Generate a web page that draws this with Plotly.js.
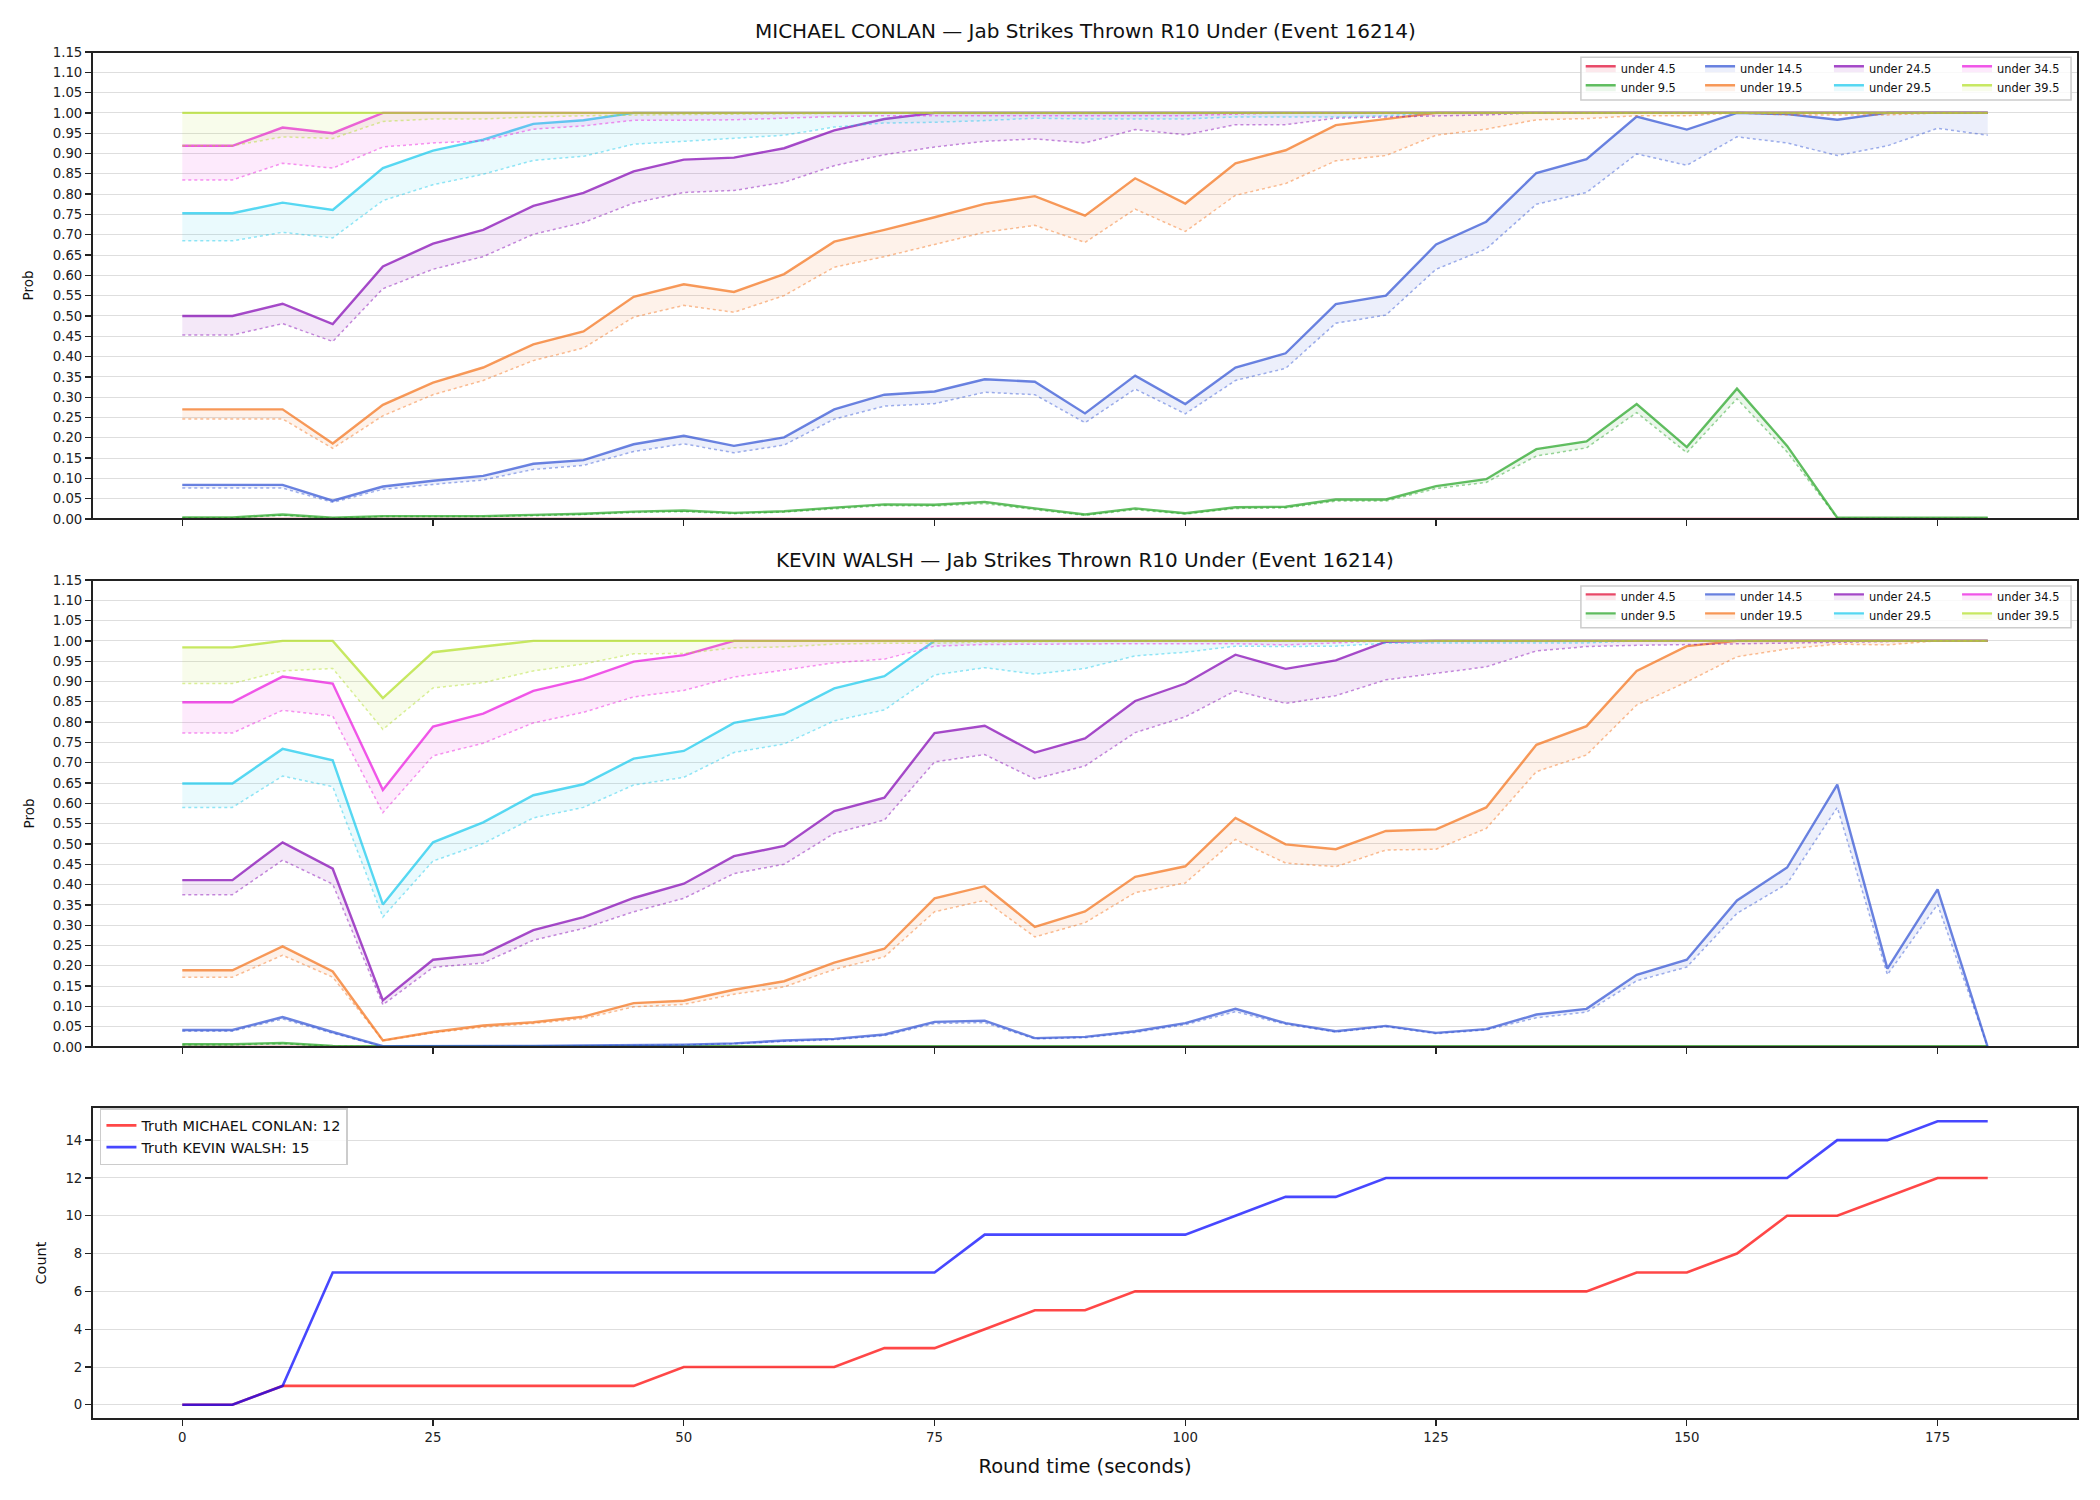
<!DOCTYPE html>
<html><head><meta charset="utf-8">
<script src="https://cdn.plot.ly/plotly-3.0.1.min.js"></script>
<style>html,body{margin:0;padding:0;background:#fff;} #chart{width:2100px;height:1500px;}</style>
</head><body><div id="chart"></div>
<script>
// ---------- DATA ----------
const timeSec = [0,5,10,15,20,25,30,35,40,45,50,55,60,65,70,75,80,85,90,95,100,105,110,115,120,125,130,135,140,145,150,155,160,165,170,175,180];
const lineLabels = ['under 4.5','under 9.5','under 14.5','under 19.5','under 24.5','under 29.5','under 34.5','under 39.5'];
const xTickVals = [0,25,50,75,100,125,150,175];
const countTickVals = [0,2,4,6,8,10,12,14];
const fighterA = 'MICHAEL CONLAN';
const fighterB = 'KEVIN WALSH';
const marketName = 'Jab Strikes Thrown R10 Under (Event 16214)';

// Michael Conlan: solid (prob) and dotted (lower band)
const conlan_u45      = [0,0,0,0,0,0,0,0,0,0,0,0,0,0,0,0,0,0,0,0,0,0,0,0,0,0,0,0,0,0,0,0,0,0,0,0,0];
const conlan_u45_low  = [0,0,0,0,0,0,0,0,0,0,0,0,0,0,0,0,0,0,0,0,0,0,0,0,0,0,0,0,0,0,0,0,0,0,0,0,0];
const conlan_u95      = [0.004,0.004,0.011,0.003,0.007,0.007,0.007,0.010,0.013,0.018,0.021,0.015,0.019,0.028,0.036,0.035,0.042,0.026,0.011,0.026,0.014,0.029,0.030,0.048,0.048,0.081,0.098,0.172,0.191,0.283,0.177,0.321,0.180,0.003,0.003,0.003,0.003];
const conlan_u95_low  = [0.003,0.003,0.009,0.002,0.006,0.006,0.006,0.008,0.011,0.016,0.018,0.013,0.017,0.025,0.033,0.032,0.038,0.023,0.009,0.023,0.012,0.026,0.027,0.044,0.044,0.075,0.090,0.155,0.175,0.262,0.163,0.296,0.165,0.002,0.002,0.002,0.002];
const conlan_u145     = [0.084,0.084,0.084,0.045,0.080,0.094,0.106,0.136,0.145,0.184,0.205,0.180,0.201,0.270,0.306,0.314,0.344,0.338,0.260,0.353,0.283,0.373,0.408,0.529,0.550,0.676,0.732,0.852,0.886,0.991,0.959,1.0,0.997,0.983,1.0,1.0,1.0];
const conlan_u145_low = [0.076,0.076,0.076,0.041,0.073,0.085,0.096,0.122,0.132,0.166,0.185,0.163,0.182,0.246,0.278,0.284,0.312,0.306,0.237,0.320,0.259,0.341,0.371,0.482,0.502,0.615,0.665,0.775,0.804,0.899,0.871,0.941,0.926,0.895,0.919,0.962,0.945];
const conlan_u195     = [0.270,0.270,0.270,0.186,0.281,0.336,0.373,0.430,0.462,0.547,0.578,0.559,0.603,0.683,0.712,0.743,0.776,0.795,0.747,0.839,0.777,0.876,0.908,0.970,0.985,1.0,1.0,1.0,1.0,1.0,1.0,1.0,1.0,1.0,1.0,1.0,1.0];
const conlan_u195_low = [0.246,0.246,0.246,0.174,0.254,0.306,0.341,0.390,0.421,0.497,0.526,0.509,0.550,0.620,0.646,0.676,0.706,0.723,0.681,0.763,0.708,0.797,0.826,0.882,0.895,0.945,0.960,0.983,0.986,0.993,0.993,1.0,0.995,0.995,0.995,1.0,1.0];
const conlan_u245     = [0.500,0.500,0.530,0.480,0.622,0.678,0.712,0.771,0.803,0.856,0.885,0.890,0.913,0.957,0.985,1.0,1.0,1.0,1.0,1.0,1.0,1.0,1.0,1.0,1.0,1.0,1.0,1.0,1.0,1.0,1.0,1.0,1.0,1.0,1.0,1.0,1.0];
const conlan_u245_low = [0.453,0.453,0.481,0.437,0.567,0.615,0.646,0.701,0.730,0.778,0.804,0.809,0.829,0.870,0.897,0.916,0.930,0.936,0.926,0.959,0.946,0.971,0.971,0.987,0.990,0.993,0.995,1.0,1.0,1.0,1.0,1.0,1.0,1.0,1.0,1.0,1.0];
const conlan_u295     = [0.753,0.753,0.779,0.761,0.864,0.907,0.934,0.973,0.982,1.0,1.0,1.0,1.0,1.0,1.0,1.0,1.0,1.0,1.0,1.0,1.0,1.0,1.0,1.0,1.0,1.0,1.0,1.0,1.0,1.0,1.0,1.0,1.0,1.0,1.0,1.0,1.0];
const conlan_u295_low = [0.685,0.685,0.706,0.692,0.784,0.823,0.849,0.883,0.893,0.923,0.930,0.937,0.945,0.965,0.975,0.977,0.981,0.987,0.985,0.985,0.985,0.990,0.990,0.990,0.993,1.0,1.0,1.0,1.0,1.0,1.0,1.0,1.0,1.0,1.0,1.0,1.0];
const conlan_u345     = [0.919,0.919,0.964,0.950,1.0,1.0,1.0,1.0,1.0,1.0,1.0,1.0,1.0,1.0,1.0,1.0,1.0,1.0,1.0,1.0,1.0,1.0,1.0,1.0,1.0,1.0,1.0,1.0,1.0,1.0,1.0,1.0,1.0,1.0,1.0,1.0,1.0];
const conlan_u345_low = [0.835,0.835,0.876,0.864,0.916,0.926,0.931,0.960,0.968,0.982,0.982,0.983,0.987,0.991,0.993,0.993,0.993,0.993,0.993,0.993,0.993,0.997,1.0,1.0,1.0,1.0,1.0,1.0,1.0,1.0,1.0,1.0,1.0,1.0,1.0,1.0,1.0];
const conlan_u395     = [1.0,1.0,1.0,1.0,1.0,1.0,1.0,1.0,1.0,1.0,1.0,1.0,1.0,1.0,1.0,1.0,1.0,1.0,1.0,1.0,1.0,1.0,1.0,1.0,1.0,1.0,1.0,1.0,1.0,1.0,1.0,1.0,1.0,1.0,1.0,1.0,1.0];
const conlan_u395_low = [0.919,0.919,0.941,0.937,0.979,0.985,0.985,0.990,0.993,0.995,0.996,0.997,0.998,0.999,1.0,1.0,1.0,1.0,1.0,1.0,1.0,1.0,1.0,1.0,1.0,1.0,1.0,1.0,1.0,1.0,1.0,1.0,1.0,1.0,1.0,1.0,1.0];

// Kevin Walsh
const walsh_u45       = [0,0,0,0,0,0,0,0,0,0,0,0,0,0,0,0,0,0,0,0,0,0,0,0,0,0,0,0,0,0,0,0,0,0,0,0,0];
const walsh_u45_low   = [0,0,0,0,0,0,0,0,0,0,0,0,0,0,0,0,0,0,0,0,0,0,0,0,0,0,0,0,0,0,0,0,0,0,0,0,0];
const walsh_u95       = [0.007,0.007,0.010,0.003,0.002,0.002,0.002,0.002,0.002,0.002,0.002,0.002,0.002,0.002,0.002,0.002,0.002,0.002,0.002,0.002,0.002,0.002,0.002,0.002,0.002,0.002,0.002,0.002,0.002,0.002,0.002,0.002,0.002,0.002,0.002,0.002,0.002];
const walsh_u95_low   = [0.005,0.005,0.008,0.002,0.001,0.001,0.001,0.001,0.001,0.001,0.001,0.001,0.001,0.001,0.001,0.001,0.001,0.001,0.001,0.001,0.001,0.001,0.001,0.001,0.001,0.001,0.001,0.001,0.001,0.001,0.001,0.001,0.001,0.001,0.001,0.001,0.001];
const walsh_u145      = [0.042,0.042,0.074,0.037,0.002,0.002,0.002,0.003,0.004,0.005,0.006,0.009,0.016,0.020,0.031,0.062,0.065,0.022,0.025,0.039,0.059,0.094,0.059,0.039,0.052,0.035,0.044,0.080,0.094,0.178,0.215,0.361,0.442,0.646,0.193,0.388,0];
const walsh_u145_low  = [0.039,0.039,0.069,0.034,0.001,0.001,0.001,0.002,0.003,0.004,0.005,0.008,0.014,0.018,0.028,0.058,0.060,0.020,0.023,0.036,0.055,0.087,0.056,0.037,0.050,0.033,0.042,0.072,0.086,0.163,0.197,0.329,0.402,0.590,0.178,0.351,0];
const walsh_u195      = [0.189,0.189,0.248,0.186,0.016,0.037,0.053,0.061,0.075,0.108,0.114,0.141,0.162,0.208,0.242,0.366,0.396,0.296,0.334,0.419,0.445,0.564,0.499,0.487,0.532,0.536,0.590,0.744,0.790,0.926,0.987,1.0,1.0,1.0,1.0,1.0,1.0];
const walsh_u195_low  = [0.172,0.172,0.226,0.172,0.016,0.035,0.049,0.058,0.070,0.099,0.105,0.130,0.148,0.191,0.222,0.333,0.361,0.271,0.306,0.380,0.404,0.511,0.453,0.444,0.485,0.487,0.538,0.678,0.719,0.842,0.899,0.961,0.980,0.992,0.990,1.0,1.0];
const walsh_u245      = [0.411,0.411,0.504,0.439,0.115,0.215,0.228,0.288,0.320,0.367,0.402,0.470,0.495,0.581,0.614,0.773,0.791,0.725,0.760,0.852,0.895,0.966,0.931,0.952,0.998,1.0,1.0,1.0,1.0,1.0,1.0,1.0,1.0,1.0,1.0,1.0,1.0];
const walsh_u245_low  = [0.375,0.375,0.460,0.401,0.104,0.196,0.207,0.263,0.292,0.333,0.366,0.427,0.450,0.526,0.559,0.702,0.720,0.660,0.692,0.774,0.813,0.877,0.846,0.865,0.904,0.920,0.936,0.975,0.986,0.989,0.991,0.992,0.994,0.996,0.998,1.0,1.0];
const walsh_u295      = [0.649,0.649,0.734,0.706,0.351,0.504,0.553,0.620,0.647,0.710,0.729,0.798,0.820,0.883,0.913,1.0,1.0,1.0,1.0,1.0,1.0,1.0,1.0,1.0,1.0,1.0,1.0,1.0,1.0,1.0,1.0,1.0,1.0,1.0,1.0,1.0,1.0];
const walsh_u295_low  = [0.590,0.590,0.667,0.641,0.320,0.458,0.501,0.564,0.590,0.645,0.664,0.725,0.746,0.803,0.830,0.916,0.934,0.918,0.932,0.963,0.972,0.987,0.986,0.987,0.994,0.995,0.995,0.995,0.995,1.0,1.0,1.0,1.0,1.0,1.0,1.0,1.0];
const walsh_u345      = [0.849,0.849,0.912,0.895,0.633,0.789,0.821,0.877,0.906,0.949,0.965,1.0,1.0,1.0,1.0,1.0,1.0,1.0,1.0,1.0,1.0,1.0,1.0,1.0,1.0,1.0,1.0,1.0,1.0,1.0,1.0,1.0,1.0,1.0,1.0,1.0,1.0];
const walsh_u345_low  = [0.773,0.773,0.829,0.815,0.577,0.717,0.748,0.798,0.824,0.862,0.878,0.911,0.928,0.946,0.955,0.987,0.991,0.992,0.993,0.993,0.993,0.993,0.990,0.995,1.0,1.0,1.0,1.0,1.0,1.0,1.0,1.0,1.0,1.0,1.0,1.0,1.0];
const walsh_u395      = [0.984,0.984,1.0,1.0,0.859,0.972,0.986,1.0,1.0,1.0,1.0,1.0,1.0,1.0,1.0,1.0,1.0,1.0,1.0,1.0,1.0,1.0,1.0,1.0,1.0,1.0,1.0,1.0,1.0,1.0,1.0,1.0,1.0,1.0,1.0,1.0,1.0];
const walsh_u395_low  = [0.895,0.895,0.926,0.932,0.782,0.884,0.897,0.926,0.943,0.968,0.969,0.983,0.985,0.992,0.994,0.994,0.997,0.998,1.0,1.0,1.0,1.0,1.0,1.0,1.0,1.0,1.0,1.0,1.0,1.0,1.0,1.0,1.0,1.0,1.0,1.0,1.0];

// Truth counts
const truthConlan = [0,0,1,1,1,1,1,1,1,1,2,2,2,2,3,3,4,5,5,6,6,6,6,6,6,6,6,6,6,7,7,8,10,10,11,12,12];
const truthWalsh  = [0,0,1,7,7,7,7,7,7,7,7,7,7,7,7,7,9,9,9,9,9,10,11,11,12,12,12,12,12,12,12,12,12,14,14,15,15];
const truthConlanFinal = 12;
const truthWalshFinal = 15;

// ---------- STYLE ----------
const seriesRGB = [[222,1,44],[31,162,31],[44,79,211],[244,111,22],[128,0,178],[19,199,236],[234,19,222],[176,222,34]];
const rgba = (c,a) => `rgba(${c[0]},${c[1]},${c[2]},${a})`;
const FONT = 'DejaVu Sans, Liberation Sans, sans-serif';

const conlanMid = [conlan_u45,conlan_u95,conlan_u145,conlan_u195,conlan_u245,conlan_u295,conlan_u345,conlan_u395];
const conlanLow = [conlan_u45_low,conlan_u95_low,conlan_u145_low,conlan_u195_low,conlan_u245_low,conlan_u295_low,conlan_u345_low,conlan_u395_low];
const walshMid  = [walsh_u45,walsh_u95,walsh_u145,walsh_u195,walsh_u245,walsh_u295,walsh_u345,walsh_u395];
const walshLow  = [walsh_u45_low,walsh_u95_low,walsh_u145_low,walsh_u195_low,walsh_u245_low,walsh_u295_low,walsh_u345_low,walsh_u395_low];

const traces = [];
function addPanel(mids, lows, xa, ya, legendBase) {
  for (let i = 0; i < lineLabels.length; i++) {
    const c = seriesRGB[i];
    traces.push({
      x: timeSec, y: lows[i], xaxis: xa, yaxis: ya, type: 'scatter', mode: 'lines',
      line: {color: rgba(c,0.45), width: 1.5, dash: 'dot'}, showlegend: false, hoverinfo: 'skip'
    });
    const idx = legendBase + Math.floor(i/2);
    traces.push({
      x: timeSec, y: mids[i], xaxis: xa, yaxis: ya, type: 'scatter', mode: 'lines',
      name: lineLabels[i], fill: 'tonexty', fillcolor: rgba(c,0.09),
      line: {color: rgba(c,0.7), width: 2.4}, showlegend: true, legend: idx === 1 ? 'legend' : 'legend' + idx
    });
  }
}
addPanel(conlanMid, conlanLow, 'x', 'y', 1);
addPanel(walshMid, walshLow, 'x2', 'y2', 5);

traces.push({x: timeSec, y: truthConlan, xaxis: 'x3', yaxis: 'y3', type: 'scatter', mode: 'lines',
  name: 'Truth ' + fighterA + ': ' + truthConlanFinal, line: {color: 'rgba(255,0,0,0.72)', width: 2.6}, legend: 'legend9'});
traces.push({x: timeSec, y: truthWalsh, xaxis: 'x3', yaxis: 'y3', type: 'scatter', mode: 'lines',
  name: 'Truth ' + fighterB + ': ' + truthWalshFinal, line: {color: 'rgba(0,0,255,0.72)', width: 2.6}, legend: 'legend9'});

// ---------- LAYOUT ----------
const axisLine = {showline: false, zeroline: false,
  ticks: 'outside', ticklen: 6, tickwidth: 1.3, tickcolor: '#222', tickfont: {family: FONT, size: 13.3, color: '#222'}};
const xBase = Object.assign({}, axisLine, {range: [-9, 189], tickmode: 'array', tickvals: xTickVals, showgrid: false});
const yProb = Object.assign({}, axisLine, {range: [0, 1.15], tick0: 0, dtick: 0.05, tickformat: '.2f',
  showgrid: true, gridcolor: '#dedede', gridwidth: 1,
  title: {text: 'Prob', font: {family: FONT, size: 13.5, color: '#111'}, standoff: 15}});

const legTop = {font: {family: FONT, size: 11.4, color: '#111'}, orientation: 'v', bgcolor: 'rgba(0,0,0,0)',
  borderwidth: 0, xanchor: 'left', yanchor: 'top', traceorder: 'normal', tracegroupgap: 0};
const colX = [0.7496, 0.8097, 0.8746, 0.9391];
const legY1 = 0.9987, legY2 = 0.6124;

// axes frames (spines) drawn above the traces, like the reference
const frame = (xa, ya) => ({type: 'rect', xref: xa + ' domain', yref: ya + ' domain', x0: 0, x1: 1, y0: 0, y1: 1,
  line: {color: '#222', width: 2}, fillcolor: 'rgba(0,0,0,0)', layer: 'above'});

const layout = {
  width: 2100, height: 1500, paper_bgcolor: '#fff', plot_bgcolor: '#fff',
  margin: {l: 92, r: 22, t: 52, b: 81},
  font: {family: FONT, color: '#111'},
  xaxis: Object.assign({}, xBase, {domain: [0,1], anchor: 'y', showticklabels: false}),
  yaxis: Object.assign({}, yProb, {domain: [0.6584, 1], anchor: 'x'}),
  xaxis2: Object.assign({}, xBase, {domain: [0,1], anchor: 'y2', showticklabels: false}),
  yaxis2: Object.assign({}, yProb, {domain: [0.2721, 0.6138], anchor: 'x2'}),
  xaxis3: Object.assign({}, xBase, {domain: [0,1], anchor: 'y3',
    title: {text: 'Round time (seconds)', font: {family: FONT, size: 19.5, color: '#111'}, standoff: 15}}),
  yaxis3: Object.assign({}, axisLine, {domain: [0, 0.2282], anchor: 'x3', range: [-0.75, 15.75],
    tickmode: 'array', tickvals: countTickVals, showgrid: true, gridcolor: '#dedede', gridwidth: 1,
    title: {text: 'Count', font: {family: FONT, size: 14.5, color: '#111'}, standoff: 15}}),
  legend:  Object.assign({}, legTop, {x: colX[0], y: legY1}),
  legend2: Object.assign({}, legTop, {x: colX[1], y: legY1}),
  legend3: Object.assign({}, legTop, {x: colX[2], y: legY1}),
  legend4: Object.assign({}, legTop, {x: colX[3], y: legY1}),
  legend5: Object.assign({}, legTop, {x: colX[0], y: legY2}),
  legend6: Object.assign({}, legTop, {x: colX[1], y: legY2}),
  legend7: Object.assign({}, legTop, {x: colX[2], y: legY2}),
  legend8: Object.assign({}, legTop, {x: colX[3], y: legY2}),
  legend9: {font: {family: FONT, size: 14.4, color: '#111'}, orientation: 'v', bgcolor: 'rgba(255,255,255,0.8)',
    bordercolor: '#cccccc', borderwidth: 1.5, x: 0.004, y: 0.2275, xanchor: 'left', yanchor: 'top', traceorder: 'normal'},
  shapes: [
    {type: 'rect', xref: 'paper', yref: 'paper', x0: 0.7497, x1: 0.9965, y0: 0.9649, y1: 0.9961,
     line: {color: '#cccccc', width: 1.5}, fillcolor: 'rgba(255,255,255,0.8)', layer: 'above'},
    {type: 'rect', xref: 'paper', yref: 'paper', x0: 0.7497, x1: 0.9965, y0: 0.5789, y1: 0.6094,
     line: {color: '#cccccc', width: 1.5}, fillcolor: 'rgba(255,255,255,0.8)', layer: 'above'},
    frame('x', 'y'), frame('x2', 'y2'), frame('x3', 'y3')
  ],
  annotations: [
    {text: fighterA + ' — ' + marketName, xref: 'paper', yref: 'paper', x: 0.5, y: 1.0154,
     xanchor: 'center', yanchor: 'middle', showarrow: false, font: {family: FONT, size: 20, color: '#111'}},
    {text: fighterB + ' — ' + marketName, xref: 'paper', yref: 'paper', x: 0.5, y: 0.6284,
     xanchor: 'center', yanchor: 'middle', showarrow: false, font: {family: FONT, size: 20, color: '#111'}}
  ],
  hovermode: false
};

Plotly.newPlot('chart', traces, layout, {staticPlot: true, displayModeBar: false});
</script>
</body></html>
